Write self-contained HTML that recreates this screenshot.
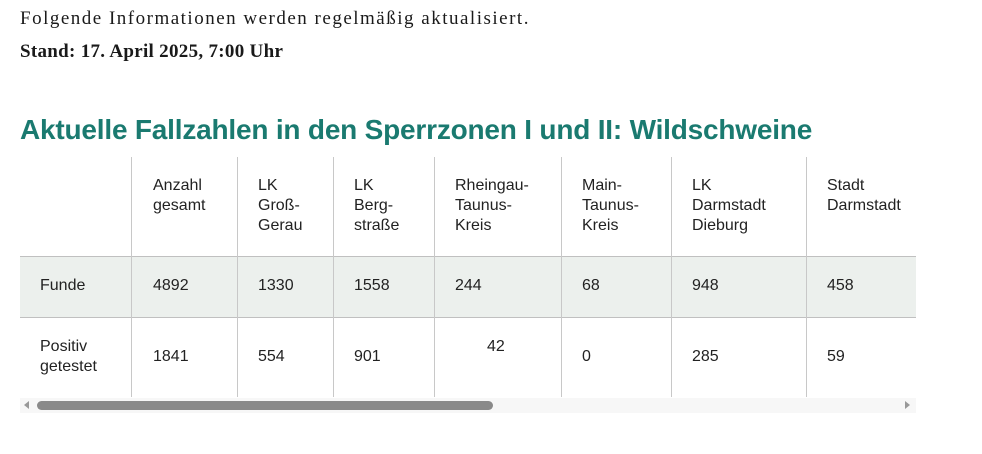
<!DOCTYPE html>
<html><head><meta charset="utf-8"><style>
body{margin:0;width:982px;height:454px;background:#fff;position:relative;overflow:hidden;color:#1a1a1a}
.s{position:absolute;font-family:"Liberation Serif",serif;font-size:19px;left:20px;white-space:nowrap}
h2{position:absolute;margin:0;left:20px;top:114px;font-family:"Liberation Sans",sans-serif;font-weight:bold;font-size:28px;color:#1a7a70;white-space:nowrap;letter-spacing:-0.2px}
.t{position:absolute;font-family:"Liberation Sans",sans-serif;font-size:16px;line-height:20px;color:#222;white-space:nowrap}
.v{position:absolute;width:1px;background:#c8c8c8;top:157px;height:240px}
.h{position:absolute;height:1px;background:#c0c0c0;left:20px;width:896px}
</style></head><body>
<div class="s" style="top:8px;letter-spacing:1.5px">Folgende Informationen werden regelmäßig aktualisiert.</div>
<div class="s" style="top:41px;font-weight:bold;letter-spacing:0.3px">Stand: 17. April 2025, 7:00 Uhr</div>
<h2>Aktuelle Fallzahlen in den Sperrzonen I und II: Wildschweine</h2>
<div style="position:absolute;left:20px;top:256px;width:896px;height:61px;background:#ecf0ed"></div>
<div class="h" style="top:256px"></div>
<div class="h" style="top:317px"></div>
<div class="v" style="left:131px"></div>
<div class="v" style="left:237px"></div>
<div class="v" style="left:333px"></div>
<div class="v" style="left:434px"></div>
<div class="v" style="left:561px"></div>
<div class="v" style="left:671px"></div>
<div class="v" style="left:806px"></div>
<div class="t" style="left:153px;top:176px">Anzahl<br>gesamt</div>
<div class="t" style="left:258px;top:176px">LK<br>Groß-<br>Gerau</div>
<div class="t" style="left:354px;top:176px">LK<br>Berg-<br>straße</div>
<div class="t" style="left:455px;top:176px">Rheingau-<br>Taunus-<br>Kreis</div>
<div class="t" style="left:582px;top:176px">Main-<br>Taunus-<br>Kreis</div>
<div class="t" style="left:692px;top:176px">LK<br>Darmstadt<br>Dieburg</div>
<div class="t" style="left:827px;top:176px;width:89px;overflow:hidden">Stadt<br>Darmstadt</div>
<div class="t" style="left:40px;top:276px">Funde</div>
<div class="t" style="left:153px;top:276px">4892</div>
<div class="t" style="left:258px;top:276px">1330</div>
<div class="t" style="left:354px;top:276px">1558</div>
<div class="t" style="left:455px;top:276px">244</div>
<div class="t" style="left:582px;top:276px">68</div>
<div class="t" style="left:692px;top:276px">948</div>
<div class="t" style="left:827px;top:276px">458</div>
<div class="t" style="left:40px;top:337px">Positiv<br>getestet</div>
<div class="t" style="left:153px;top:347px">1841</div>
<div class="t" style="left:258px;top:347px">554</div>
<div class="t" style="left:354px;top:347px">901</div>
<div class="t" style="left:487px;top:337px">42</div>
<div class="t" style="left:582px;top:347px">0</div>
<div class="t" style="left:692px;top:347px">285</div>
<div class="t" style="left:827px;top:347px">59</div>
<div style="position:absolute;left:20px;top:398px;width:896px;height:15px;background:#f7f7f7"></div>
<div style="position:absolute;left:24px;top:401px;width:0;height:0;border-top:4px solid transparent;border-bottom:4px solid transparent;border-right:5px solid #999"></div>
<div style="position:absolute;left:905px;top:401px;width:0;height:0;border-top:4px solid transparent;border-bottom:4px solid transparent;border-left:5px solid #999"></div>
<div style="position:absolute;left:37px;top:401px;width:456px;height:9px;border-radius:5px;background:#8a8a8a"></div>
</body></html>
